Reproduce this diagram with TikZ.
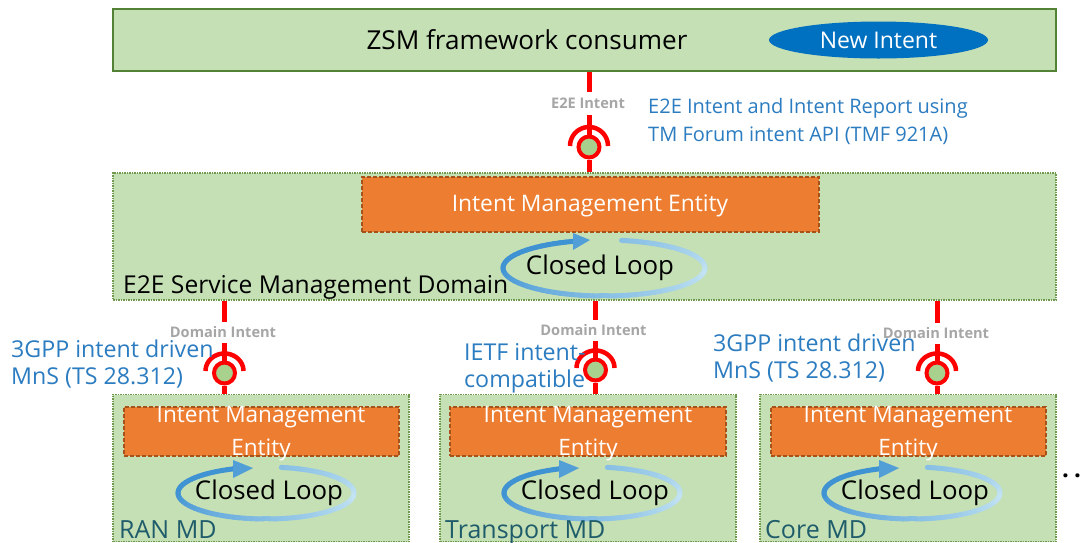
\documentclass[tikz,border=0pt]{standalone}
\usepackage{fontspec}
\usetikzlibrary{shapes.geometric}
\setmainfont{Open Sans}
\definecolor{boxgreen}{HTML}{C5E0B4}
\definecolor{edgegreen}{HTML}{548235}
\definecolor{dotgreen}{HTML}{6F9A4E}
\definecolor{orangefill}{HTML}{ED7D31}
\definecolor{orangeedge}{HTML}{A5521B}
\definecolor{textblue}{HTML}{2B7CC0}
\definecolor{ovalblue}{HTML}{0070C0}
\definecolor{sockgreen}{HTML}{A9D18E}
\definecolor{looplight}{HTML}{C4E4F3}
\definecolor{loopdeep}{HTML}{3F93D3}
\definecolor{mdteal}{HTML}{1F5C6B}
\definecolor{labelgrey}{HTML}{A6A6A6}
\tikzset{
 zsmbox/.style={draw=edgegreen,line width=2pt,fill=boxgreen,inner sep=0pt},
 domainbox/.style={draw=dotgreen,line width=1.5pt,densely dotted,fill=boxgreen,inner sep=0pt},
 imebox/.style={draw=orangeedge,line width=1.5pt,dash pattern=on 4pt off 2pt,fill=orangefill,inner sep=0pt},
 ringnode/.style={circle,draw=red,line width=4pt,fill=sockgreen,inner sep=0pt,minimum size=21pt},
 redline/.style={draw=red,line width=5pt},
 redarc/.style={draw=red,line width=4.5pt},
 ifacelabel/.style={fill=white,inner xsep=1pt,inner ysep=0pt,minimum height=21pt,text=labelgrey,font=\fontsize{14.6}{16}\selectfont\bfseries},
 bluetext/.style={text=textblue,align=left,inner sep=0pt,anchor=north west},
 whitetext/.style={text=white,inner sep=0pt},
 blacktext/.style={text=black,inner sep=0pt},
 mdname/.style={text=mdteal,inner sep=0pt,anchor=base west,font=\fontsize{25}{29}\selectfont},
 looptext/.style={blacktext,font=\fontsize{25.8}{30}\selectfont},
 imetext/.style={whitetext,align=center,font=\fontsize{22.6}{33}\selectfont},
 noteblue/.style={bluetext,font=\fontsize{23.2}{27}\selectfont},
}
% #1 cx, #2 cy, #3 rx, #4 ry, #5 tip dx, #6 base dx, #7 tip dy, #8 base upper dy, #9 base lower dy
\newcommand{\looparrow}[9]{%
 \foreach \t in {-80,-76,...,250}{%
  \pgfmathsetmacro\p{\t<10 ? 55+45*((\t+80)/90) : (\t<180 ? 100-100*((\t-10)/170) : 0)}%
  \draw[line width=5pt,line cap=round,draw={looplight!\p!loopdeep}]
   ({#1+#3*cos(\t)},{#2+#4*sin(\t)}) -- ({#1+#3*cos(\t+4)},{#2+#4*sin(\t+4)});
 }%
 \fill[loopdeep!90!white] ({#1+#5},{#2+#7}) -- ({#1+#6},{#2+#8}) -- ({#1+#6},{#2+#9}) -- cycle;
}
\newcommand{\sockarc}[4]{%
 \draw[redarc] plot[domain=0:180,samples=30,smooth] ({#1+#3*cos(\x)},{#2-#4*sin(\x)});
}
\begin{document}
\begin{tikzpicture}[x=1pt,y=-1pt]
\useasboundingbox (0,0) rectangle (1085,542);
\clip (0,0) rectangle (1085,542);
\fill[white] (0,0) rectangle (1085,542);

% boxes
\node[zsmbox,minimum width=943pt,minimum height=62pt] (zsm) at (584.5,40) {};
\node[domainbox,minimum width=943pt,minimum height=127pt] (e2e) at (584.5,236.5) {};
\node[domainbox,minimum width=296pt,minimum height=147pt] (ran) at (261,468) {};
\node[domainbox,minimum width=296pt,minimum height=147pt] (tra) at (588,468) {};
\node[domainbox,minimum width=296pt,minimum height=147pt] (cor) at (908,468) {};
\node[imebox,minimum width=457pt,minimum height=55pt] (imetop) at (590.5,204.5) {};
\node[imebox,minimum width=275pt,minimum height=49pt] (imeran) at (261.5,431.5) {};
\node[imebox,minimum width=276pt,minimum height=49pt] (imetra) at (588,431.5) {};
\node[imebox,minimum width=275pt,minimum height=49pt] (imecor) at (908.5,431.5) {};

% sockets
\node[ringnode] (rtop) at (589,147) {};
\node[ringnode] (rran) at (224.5,373) {};
\node[ringnode] (rtra) at (595.5,370) {};
\node[ringnode] (rcor) at (937,373) {};
\sockarc{589}{146}{19}{19}
\sockarc{224.5}{371}{19}{17.5}
\sockarc{595.5}{368}{19}{17.5}
\sockarc{937}{371}{19}{17.5}

% connectors
\draw[redline] (zsm.south -| rtop) -- (rtop.north);
\draw[redline] (rtop.south) -- (rtop.south |- e2e.north);
\draw[redline] (e2e.south -| rran) -- (rran.north);
\draw[redline] (rran.south) -- (rran.south |- ran.north);
\draw[redline] (e2e.south -| rtra) -- (rtra.north);
\draw[redline] (rtra.south) -- (rtra.south |- tra.north);
\draw[redline] (e2e.south -| rcor) -- (rcor.north);
\draw[redline] (rcor.south) -- (rcor.south |- cor.north);

% interface labels
\node[ifacelabel,minimum height=23pt] (ltop) at (588,103.5) {E2E Intent};
\node[ifacelabel] (lran) at (223,332.5) {Domain Intent};
\node[ifacelabel] (ltra) at (593.5,330) {Domain Intent};
\node[ifacelabel] (lcor) at (936,333) {Domain Intent};

% top texts
\node[blacktext,font=\fontsize{26.1}{31}\selectfont] (zsmtext) at (527,40) {ZSM framework consumer};
\node[ellipse,fill=ovalblue,text=white,minimum width=219pt,minimum height=37pt,inner sep=0pt,font=\fontsize{23}{27}\selectfont] (newint) at (878.5,40) {New Intent};
\node[bluetext,font=\fontsize{20}{28}\selectfont] (api) at (648,98) {E2E Intent and Intent Report using\\TM Forum intent API (TMF 921A)};

% domain texts
\node[whitetext,font=\fontsize{22.8}{27}\selectfont] (imetoptext) at (590,206) {Intent Management Entity};
\looparrow{604}{268}{101}{28}{-14}{-31}{-28}{-35}{-18}
\node[looptext] (cltop) at (600,268) {Closed Loop};
\node[blacktext,font=\fontsize{24.6}{29}\selectfont,anchor=base west] (e2ename) at (123,293) {E2E Service Management Domain};

% lower domains
\node[imetext] (imerant) at (261,434) {Intent Management\\Entity};
\node[imetext] (imetrat) at (588,434) {Intent Management\\Entity};
\node[imetext] (imecort) at (908,434) {Intent Management\\Entity};
\looparrow{266}{493}{88}{26}{-13}{-33}{-25}{-33}{-15}
\looparrow{592}{493}{88}{26}{-13}{-33}{-25}{-33}{-15}
\looparrow{912}{493}{88}{26}{-13}{-33}{-25}{-33}{-15}
\node[looptext] (clran) at (269,493) {Closed Loop};
\node[looptext] (cltra) at (595,493) {Closed Loop};
\node[looptext] (clcor) at (915,493) {Closed Loop};
\node[mdname] (ranname) at (119,538) {RAN MD};
\node[mdname] (traname) at (445,538) {Transport MD};
\node[mdname] (corname) at (765,538) {Core MD};

% blue annotations
\node[noteblue] (n1) at (11,340) {3GPP intent driven\\MnS (TS 28.312)};
\node[noteblue] (n2) at (464,343) {IETF intent-\\compatible};
\node[noteblue] (n3) at (713,334) {3GPP intent driven\\MnS (TS 28.312)};

% continuation dots
\node[blacktext,font=\fontsize{24}{28}\selectfont\bfseries,anchor=base west] (dots) at (1062,477) {.\kern5pt.\kern5pt.};
\end{tikzpicture}
\end{document}
